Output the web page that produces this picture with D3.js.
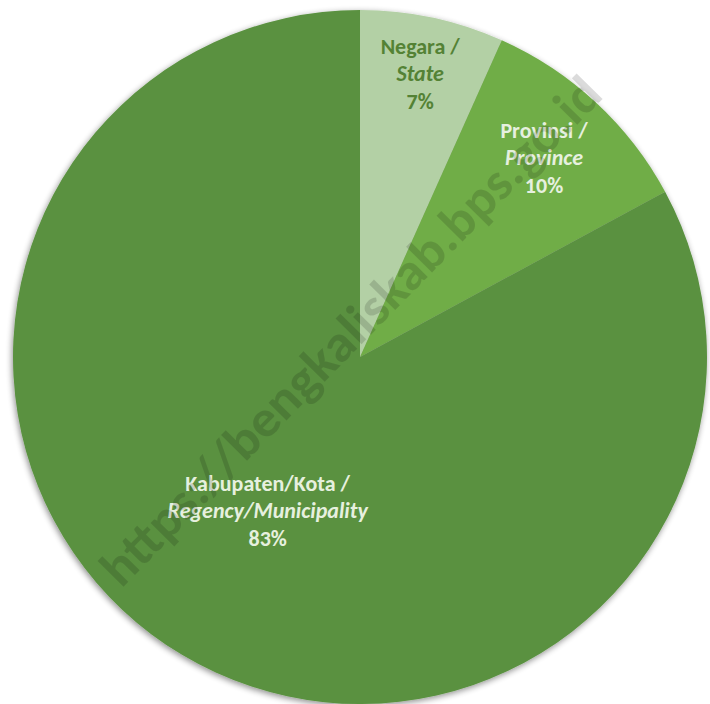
<!DOCTYPE html>
<html>
<head>
<meta charset="utf-8">
<script src="https://cdn.jsdelivr.net/npm/d3@7"></script>
<style>
  body { margin: 0; background: #fff; }
  svg { display: block; }
</style>
</head>
<body>
<svg id="chart" width="710" height="704"></svg>
<script>
const labels = ["Negara /", "Provinsi /", "Kabupaten/Kota /"];
const labelsEn = ["State", "Province", "Regency/Municipality"];
const values = [6.7, 10.4, 82.9];
const pctLabels = ["7%", "10%", "83%"];

const colors = ["#b3d0a5", "#70ad47", "#5a9140"];
const textColors = ["#548235", "#e6f0df", "#e6f0df"];
// where Excel put each label, as a fraction of the radius
const labelRadius = [0.83, 0.78, 0.52];

const width = 710, height = 704;
const cx = 360, cy = 357, r = 347;

const svg = d3.select("#chart");

/* soft grey shadow round the pie */
const defs = svg.append("defs");
const f = defs.append("filter").attr("id", "shadow")
  .attr("x", "-10%").attr("y", "-10%").attr("width", "120%").attr("height", "120%");
f.append("feGaussianBlur").attr("in", "SourceAlpha").attr("stdDeviation", 3);
f.append("feOffset").attr("dx", -1).attr("dy", 2).attr("result", "b");
f.append("feComponentTransfer").append("feFuncA").attr("type", "linear").attr("slope", 0.45);
const m = f.append("feMerge");
m.append("feMergeNode");
m.append("feMergeNode").attr("in", "SourceGraphic");

const g = svg.append("g").attr("transform", `translate(${cx},${cy})`);

const pie = d3.pie().sort(null).value(d => d);
const arcs = pie(values);
const arc = d3.arc().innerRadius(0).outerRadius(r);

g.append("g")
  .attr("filter", "url(#shadow)")
  .selectAll("path")
  .data(arcs)
  .join("path")
  .attr("d", arc)
  .attr("fill", (d, i) => colors[i]);

const font = "Calibri, Carlito, Lato, sans-serif";

const lab = g.selectAll("g.label")
  .data(arcs)
  .join("g")
  .attr("class", "label")
  .attr("transform", (d, i) => {
    const a = d3.arc().innerRadius(0).outerRadius(2 * r * labelRadius[i]);
    const [x, y] = a.centroid(d);
    return `translate(${x},${y})`;
  })
  .style("font-family", font)
  .style("font-size", "22px")
  .style("font-weight", "bold")
  .attr("text-anchor", "middle")
  .attr("fill", (d, i) => textColors[i]);

lab.append("text").attr("y", -21).text((d, i) => labels[i]);
lab.append("text").attr("y", 6).style("font-style", "italic").text((d, i) => labelsEn[i]);
lab.append("text").attr("y", 34).text((d, i) => pctLabels[i]);

/* watermark */
svg.append("text")
  .attr("transform", "translate(354,334) rotate(-45.5)")
  .attr("text-anchor", "middle")
  .attr("dominant-baseline", "middle")
  .style("font-family", font)
  .style("font-size", "52px")
  .style("font-weight", "900")
  .attr("fill", "#000")
  .attr("fill-opacity", 0.14)
  .attr("textLength", 690)
  .attr("lengthAdjust", "spacingAndGlyphs")
  .text("https://bengkaliskab.bps.go.id");
</script>
</body>
</html>
